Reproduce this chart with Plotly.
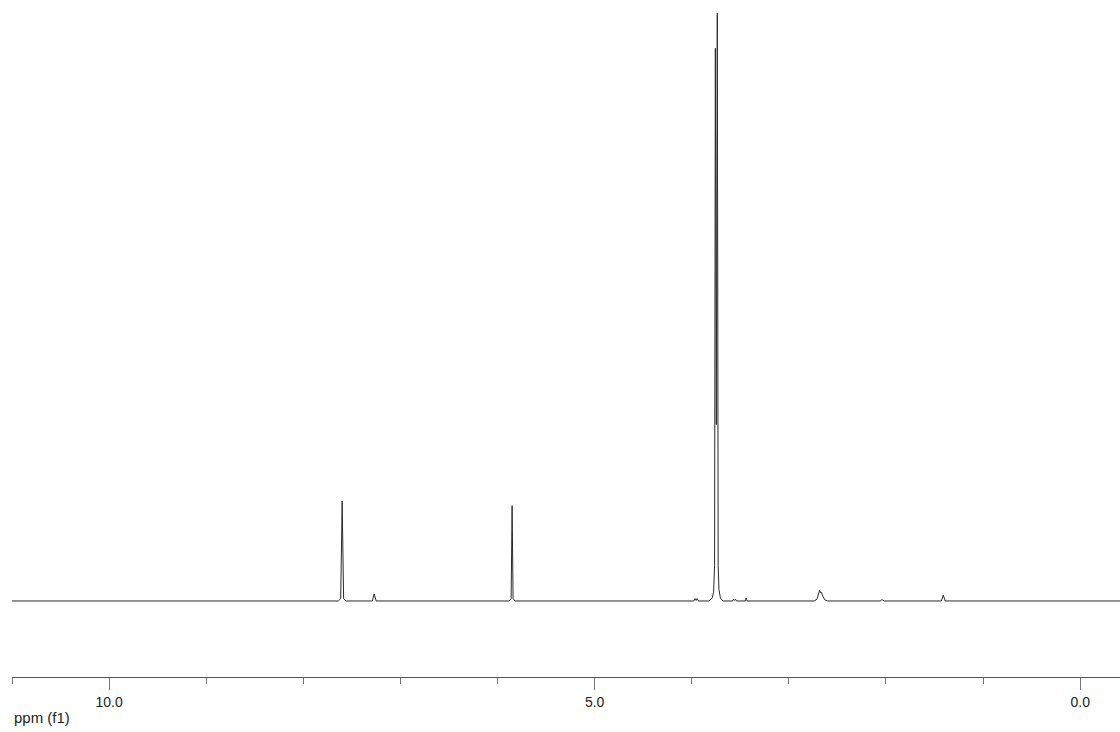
import plotly.graph_objects as go

# Spectrum trace (chemical shift in ppm, relative intensity)
ppm = [11.00, 7.64, 7.615, 7.600, 7.585, 7.56,
       7.29, 7.27, 7.25,
       5.88, 5.86, 5.850, 5.84, 5.82,
       3.98, 3.965, 3.955, 3.945, 3.93,
       3.82, 3.79, 3.775, 3.765, 3.757, 3.747, 3.737, 3.728, 3.72, 3.705, 3.68,
       3.58, 3.57, 3.56, 3.55, 3.54,
       3.45, 3.44, 3.43,
       2.74, 2.71, 2.695, 2.685, 2.675, 2.665, 2.65, 2.63, 2.60,
       2.06, 2.04, 2.02,
       1.43, 1.41, 1.39,
       -0.41]
intensity = [0.0, 0.0, 0.4, 17.0, 0.4, 0.0,
             0.0, 1.2, 0.0,
             0.0, 0.4, 16.2, 0.4, 0.0,
             0.0, 0.4, 0.1, 0.4, 0.0,
             0.0, 0.5, 1.5, 6.0, 94.0, 30.0, 100.0, 6.0, 2.0, 0.5, 0.0,
             0.0, 0.3, 0.1, 0.3, 0.0,
             0.0, 0.5, 0.0,
             0.0, 0.3, 1.2, 1.8, 1.4, 1.5, 0.8, 0.2, 0.0,
             0.0, 0.25, 0.0,
             0.0, 1.0, 0.0,
             0.0]

major_ticks = [10.0, 5.0, 0.0]
major_labels = ["10.0", "5.0", "0.0"]

fig = go.Figure()
fig.add_trace(go.Scatter(x=ppm, y=intensity, mode="lines",
                         line=dict(color="#2a2a2a", width=1),
                         hoverinfo="skip", showlegend=False))

fig.update_layout(
    width=1120, height=732,
    margin=dict(l=12, r=0, t=0, b=55),
    paper_bgcolor="white", plot_bgcolor="white",
    font=dict(family="Liberation Sans, Arial, sans-serif", size=14, color="#222222"),
    xaxis=dict(range=[11.0, -0.41], showgrid=False, zeroline=False,
               showline=True, linecolor="#555555", linewidth=1,
               tickmode="array", tickvals=major_ticks, ticktext=major_labels,
               ticks="outside", ticklen=12, tickwidth=1, tickcolor="#777777",
               minor=dict(dtick=1, tick0=0, ticks="outside", ticklen=6,
                          tickcolor="#777777", showgrid=False),
               tickfont=dict(size=14, color="#222222")),
    yaxis=dict(range=[-12.93, 102.2], visible=False, showgrid=False, zeroline=False),
    annotations=[dict(text="ppm (f1)", xref="paper", yref="paper",
                      x=0, y=-0.044, xanchor="left", yanchor="top",
                      showarrow=False,
                      font=dict(size=15, color="#222222"))],
)

fig.write_html("out.html")
